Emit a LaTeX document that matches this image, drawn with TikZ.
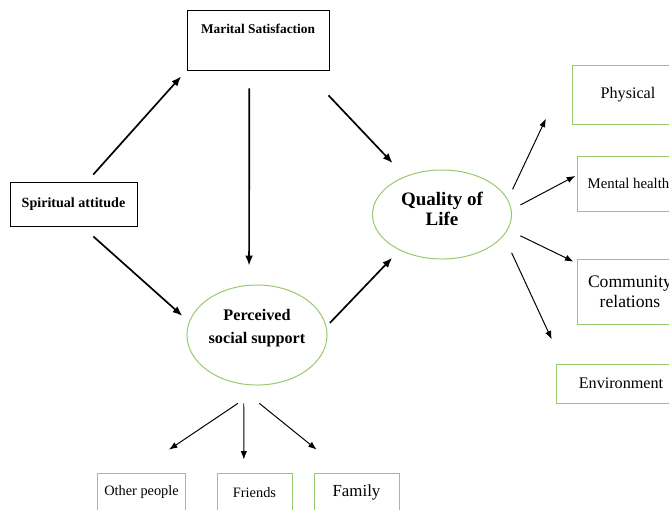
\documentclass[tikz,border=0pt]{standalone}
\usepackage{fontspec}
\setmainfont{Liberation Serif}
\usepackage{xcolor}
\usetikzlibrary{arrows.meta,shapes}

\definecolor{boxgreen}{RGB}{150,200,110}

\begin{document}
\begin{tikzpicture}[x=0.025cm,y=-0.025cm]
            \tikzset{blackbox/.style = {draw, line width=0.6pt, inner sep=0pt}}
            \tikzset{greenbox/.style = {draw=boxgreen, line width=0.7pt, inner sep=0pt, align=center}}
            \tikzset{greenoval/.style = {ellipse, draw=boxgreen, line width=0.7pt, inner sep=0pt, align=center}}
            \tikzset{thickedge/.style = {-{Latex[length=7pt,width=5.5pt]}, line width=1.2pt}}
            \tikzset{thinedge/.style = {-{Latex[length=6pt,width=4.5pt]}, line width=0.7pt}}
            \useasboundingbox (0,0) rectangle (669,509);

            % vertices
            \node[blackbox, minimum width=3.55cm, minimum height=1.5cm, text depth=16pt, font=\bfseries\fontsize{9.5}{11}\selectfont] (ms) at (258,40) {Marital Satisfaction};
            \node[blackbox, minimum width=3.175cm, minimum height=1.1cm, font=\bfseries\fontsize{10}{12}\selectfont] (sa) at (73.5,204) {Spiritual attitude};
            \node[greenoval, minimum width=3.5cm, minimum height=2.5cm, text depth=12pt, font=\bfseries\fontsize{11.5}{16}\selectfont] (pss) at (257,335) {Perceived\\social support};
            \node[greenoval, minimum width=3.475cm, minimum height=2.225cm, text depth=8pt, font=\bfseries\fontsize{13.5}{14.2}\selectfont] (qol) at (442,214.5) {Quality of\\Life};

            \node[greenbox, minimum width=2.8cm, minimum height=1.475cm, font=\fontsize{11.5}{13}\selectfont] (phys) at (628,94.5) {Physical};
            \node[greenbox, minimum width=2.575cm, minimum height=1.375cm, font=\fontsize{10.5}{12}\selectfont] (mh) at (628.5,183.5) {Mental health};
            \node[greenbox, minimum width=2.65cm, minimum height=1.625cm, font=\fontsize{12.5}{14.2}\selectfont] (cr) at (630,291.5) {Community\\relations};
            \node[greenbox, minimum width=3.25cm, minimum height=0.975cm, font=\fontsize{11.5}{13}\selectfont] (env) at (621,383.5) {Environment};

            \node[greenbox, minimum width=2.175cm, minimum height=0.975cm, font=\fontsize{10.2}{12}\selectfont] (op) at (141.5,492.5) {Other people};
            \node[greenbox, minimum width=1.875cm, minimum height=0.975cm, font=\fontsize{10.2}{12}\selectfont] (fr) at (254.5,492.5) {Friends};
            \node[greenbox, minimum width=2.125cm, minimum height=0.975cm, font=\fontsize{12}{14}\selectfont] (fam) at (356.5,492.5) {Family};

            % edges
            \draw[thickedge, shorten <=6.7pt, shorten >=5.8pt] (sa.59) to (ms.203);
            \draw[thickedge, shorten <=10.7pt, shorten >=6.3pt] (sa.-69) to (pss.169);
            \draw[thickedge, shorten <=12.8pt, shorten >=13.7pt] (ms.254) to (pss.99);
            \draw[thickedge, shorten <=24.4pt, shorten >=12.9pt] (ms.-33) to (qol.134);
            \draw[thickedge, shorten <=3.5pt, shorten >=7.5pt] (pss.7) to (qol.220);

            \foreach \a/\b/\s/\t in {13/phys.north west/7.8pt/42.6pt, 4/mh.171/7.2pt/1pt, -13/cr.152/9.9pt/2.4pt, -19/env.161/13.3pt/18.9pt}
            {\draw[thinedge, shorten <=\s, shorten >=\t] (qol.\a) to (\b);}
            \foreach \a/\b/\s/\t in {-81/op.108/23.1pt/29.1pt, -105/fr.118/13.4pt/9.2pt, -116/fam.120/23.4pt/25.9pt}
            {\draw[thinedge, shorten <=\s, shorten >=\t] (pss.\a) to (\b);}

          \end{tikzpicture}
\end{document}
